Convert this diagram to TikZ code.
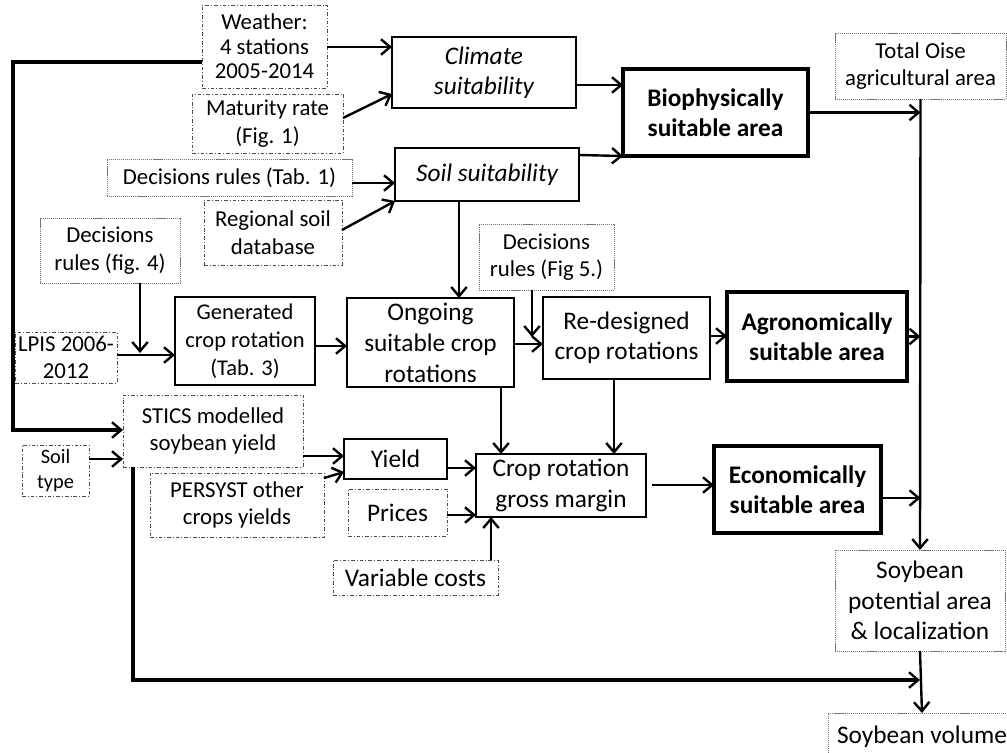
\documentclass[tikz,border=0pt]{standalone}
\usepackage{fontspec}
\setmainfont{Carlito}
\usetikzlibrary{arrows.meta}

\tikzset{
  every node/.style={inner sep=0pt, outer sep=0pt, align=center, text=black},
  sm/.style={font=\fontsize{16.2}{19.5}\selectfont},
  lg/.style={font=\fontsize{18}{21.5}\selectfont},
  proc/.style={draw=black, line width=0.9pt, lg},
  key/.style={draw=black, line width=2.2pt, font=\fontsize{18}{21.5}\selectfont\bfseries},
  src/.style={draw=black!70, line width=0.7pt, dash pattern=on 2.6pt off 1.4pt on 0.7pt off 1.4pt, sm},
  ref/.style={draw=black!55, line width=0.7pt, dash pattern=on 0.8pt off 0.6pt, sm},
  arr/.style={line width=1.7pt, -{Straight Barb[length=6.5pt,width=11pt]}},
  trunk/.style={line width=2.4pt, -{Straight Barb[length=6.5pt,width=11pt,line width=1.7pt]}},
}

% box given by its corners (x1,y1)-(x2,y2), in pixel units
\newcommand\placebox[7]{%
  \node[#1, minimum width={(#4-#2)*0.025cm}, minimum height={(#5-#3)*0.025cm}]
    (#6) at ({(#2+#4)/2},{(#3+#5)/2}) {#7};}

\begin{document}
\begin{tikzpicture}[x=0.025cm, y=-0.025cm]
\clip (0,0) rectangle (1007,752);

% ---- boxes ----
\placebox{src, font=\fontsize{16.2}{17.5}\selectfont}{202}{5}{327}{88}{weather}{Weather:\\4 stations\\2005-2014}
\placebox{proc, font=\fontsize{18}{21.5}\selectfont\itshape}{392}{37}{576}{108}{climate}{Climate\\suitability}
\placebox{src}{192}{94}{343}{153}{maturity}{Maturity rate\\(Fig. 1)}
\placebox{ref}{107}{159}{352}{196}{tabone}{Decisions rules (Tab. 1)}
\placebox{proc, font=\fontsize{18}{21.5}\selectfont\itshape}{395}{148}{579}{201}{soilsuit}{Soil suitability}
\placebox{src}{204}{200}{342}{265}{regsoil}{Regional soil\\database}
\placebox{key}{623}{69}{808}{156}{biophys}{Biophysically\\suitable area}
\placebox{ref}{835}{33}{1006}{99}{totaloise}{Total Oise\\agricultural area}
\placebox{ref}{40}{218}{180}{283}{figfour}{Decisions\\rules (fig. 4)}
\placebox{src}{15}{332}{117}{383}{lpis}{LPIS 2006-\\2012}
\placebox{proc, font=\fontsize{16}{20}\selectfont}{175}{297}{315}{385}{generated}{Generated\\crop rotation\\(Tab. 3)}
\placebox{proc, font=\fontsize{18}{22}\selectfont}{347}{298}{514}{387}{ongoing}{Ongoing\\suitable crop\\rotations}
\placebox{ref}{479}{224}{614}{290}{figfive}{Decisions\\rules (Fig 5.)}
\placebox{proc}{543}{297}{710}{379}{redesigned}{Re-designed\\crop rotations}
\placebox{key}{727}{292}{907}{381}{agro}{Agronomically\\suitable area}
\placebox{src}{123}{395}{303}{467}{stics}{STICS modelled\\soybean yield}
\placebox{src, font=\fontsize{14.5}{17.5}\selectfont}{22}{445}{89}{496}{soiltype}{Soil\\type}
\placebox{proc}{344}{439}{447}{479}{yield}{Yield}
\placebox{src}{150}{473}{324}{537}{persyst}{PERSYST other\\crops yields}
\placebox{src, lg}{348}{489}{447}{536}{prices}{Prices}
\placebox{proc}{476}{454}{646}{517}{crop}{Crop rotation\\gross margin}
\placebox{key}{714}{446}{881}{533}{econ}{Economically\\suitable area}
\placebox{src, lg}{333}{560}{498}{595}{varcost}{Variable costs}
\placebox{ref, lg}{835}{550}{1005}{651}{potential}{Soybean\\potential area\\\& localization}
\placebox{ref, lg}{828}{713}{1016}{761}{volume}{Soybean volume}

% ---- climate and soil suitability ----
\draw[arr] (weather.east |- 0,47) -- (climate.west |- 0,47);
\draw[arr] (maturity.east |- 0,118) -- (climate.west |- 0,94);
\draw[arr] (tabone.east |- 0,183) -- (soilsuit.west |- 0,183);
\draw[arr] (regsoil.east |- 0,230) -- (soilsuit.south west);
\draw[arr] (climate.east |- 0,85) -- (biophys.west |- 0,85);
\draw[arr] (soilsuit.east |- 0,155) -- (biophys.south west);

% ---- collecting line on the right ----
\draw[arr] (biophys.east) -- (biophys.east -| totaloise.south);
\draw[arr] (totaloise.south) -- (potential.north);
\draw[arr] (agro.east) -- (agro.east -| totaloise.south);
\draw[arr] (econ.east |- 0,498) -- (totaloise.south |- 0,498);
\draw[arr] (potential.south) -- (volume.north);

% ---- crop rotations ----
\draw[arr] (figfour.south -| 140,0) -- (140,353);
\draw[arr] (lpis.east |- 0,355) -- (generated.west |- 0,355);
\draw[arr] (generated.east |- 0,346) -- (ongoing.west |- 0,346);
\draw[arr] (soilsuit.south -| 459,0) -- (ongoing.north -| 459,0);
\draw[arr] (ongoing.east |- 0,344) -- (redesigned.west |- 0,344);
\draw[arr] (figfive.south -| 532,0) -- (532,337);
\draw[arr] (redesigned.east |- 0,336) -- (agro.west |- 0,336);
\draw[arr] (ongoing.south -| 501,0) -- (crop.north -| 501,0);
\draw[arr] (redesigned.south -| 614,0) -- (crop.north -| 614,0);

% ---- yields and gross margin ----
\draw[trunk] (weather.west |- 0,62) -| (13,430) -- (stics.west |- 0,430);
\draw[arr] (soiltype.east |- 0,459) -- (stics.west |- 0,459);
\draw[arr] (stics.east |- 0,456) -- (yield.west |- 0,456);
\draw[arr] (persyst.east |- 0,478) -- (yield.west |- 0,472);
\draw[arr] (yield.east |- 0,468) -- (crop.west |- 0,468);
\draw[arr] (prices.east |- 0,515) -- (crop.west |- 0,515);
\draw[arr] (varcost.north -| 491,0) -- (crop.south -| 491,0);
\draw[arr] ([xshift=6*0.025cm]crop.east |- 0,485) -- (econ.west |- 0,485);

% ---- soybean volume ----
\draw[trunk] (stics.south -| 133,0) |- (potential.south |- 0,680);
\end{tikzpicture}
\end{document}
